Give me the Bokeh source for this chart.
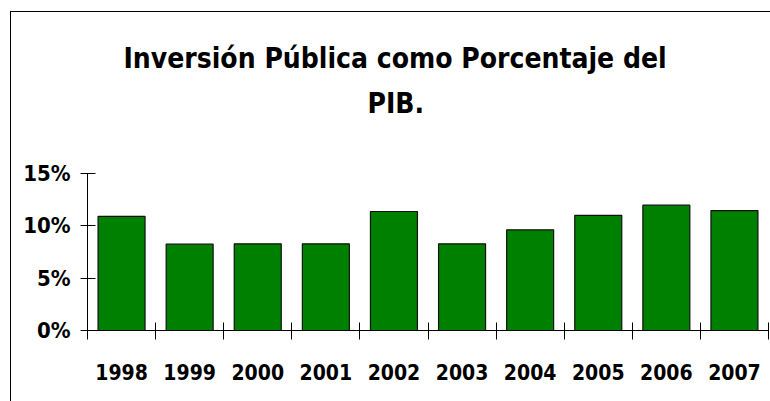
from bokeh.plotting import figure
from bokeh.models import FixedTicker, Range1d, Title
from bokeh.embed import file_html
from bokeh.resources import INLINE

years = ["1998", "1999", "2000", "2001", "2002", "2003", "2004", "2005", "2006", "2007"]
values = [10.9, 8.25, 8.28, 8.28, 11.37, 8.28, 9.62, 11.0, 11.97, 11.46]
y_ticks = [0, 5, 10, 15]
y_labels = ["0%", "5%", "10%", "15%"]
title_lines = ["Inversión Pública como Porcentaje del", "PIB."]

FONT = "DejaVu Sans Condensed"

p = figure(width=770, height=401, output_backend="svg", toolbar_location=None,
           x_range=Range1d(0, len(years)), y_range=Range1d(0, 15),
           min_border_left=87, min_border_right=2, min_border_top=173, min_border_bottom=71)
p.outline_line_color = None
p.grid.visible = False
p.background_fill_color = None
p.border_fill_color = None
# outer chart frame (left and top edges visible; it continues past the window)
p.styles = {
    "background-color": "white",
    "background-image": "linear-gradient(#000, #000), linear-gradient(#000, #000)",
    "background-size": "1px 100%, 100% 1px",
    "background-position": "10px 11px, 10px 11px",
    "background-repeat": "no-repeat",
}

xs = [i + 0.5 for i in range(len(years))]
p.vbar(x=xs, top=values, width=0.69, bottom=0, fill_color="#008000", line_color="#111111", line_width=1.2)

xa = p.xaxis[0]
xa.ticker = FixedTicker(ticks=xs, minor_ticks=list(range(len(years) + 1)))
xa.major_label_overrides = {x: y for x, y in zip(xs, years)}
xa.major_tick_in = 0
xa.major_tick_out = 0
xa.minor_tick_in = 8
xa.minor_tick_out = 9
xa.minor_tick_line_color = "black"
xa.axis_line_color = "black"
xa.major_label_standoff = 24
xa.major_label_text_font = FONT
xa.major_label_text_font_style = "bold"
xa.major_label_text_font_size = "21px"
xa.major_label_text_color = "black"

ya = p.yaxis[0]
ya.ticker = FixedTicker(ticks=y_ticks, minor_ticks=[])
ya.major_label_overrides = {t: l for t, l in zip(y_ticks, y_labels)}
ya.major_tick_in = 8
ya.major_tick_out = 7
ya.minor_tick_in = 0
ya.minor_tick_out = 0
ya.axis_line_color = "black"
ya.major_tick_line_color = "black"
ya.major_label_standoff = 10
ya.major_label_text_font = FONT
ya.major_label_text_font_style = "bold"
ya.major_label_text_font_size = "22px"
ya.major_label_text_color = "black"

# spacer between frame and title block
p.add_layout(Title(text=" ", text_font_size="33px"), "above")
p.add_layout(Title(text=title_lines[1], align="left", offset=280, text_font=FONT,
                   text_font_style="bold", text_font_size="28px", text_color="black"), "above")
p.add_layout(Title(text=title_lines[0], align="left", offset=36, text_font=FONT,
                   text_font_style="bold", text_font_size="28px", text_color="black"), "above")

open("out.html", "w").write(file_html(p, INLINE))
